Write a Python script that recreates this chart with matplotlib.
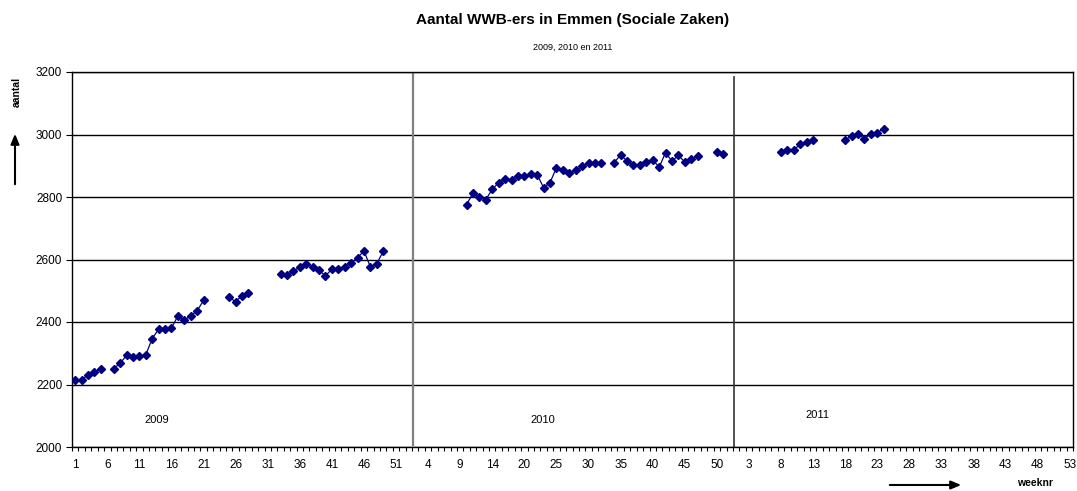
"""
Aantal WWB-ers in Emmen (Sociale Zaken), weekly counts 2009-2011.
"""

import matplotlib.pyplot as plt
import numpy as np
import pandas as pd

plt.rcParams["font.family"] = ["Liberation Sans", "DejaVu Sans"]

NAVY = "#000080"

# ---------------------------------------------------------------------------
# Data
# ---------------------------------------------------------------------------

# week numbers on the category axis (2010 skips one week on the axis)
weeks_2009 = list(range(1, 53))
weeks_2010 = [w for w in range(1, 53) if w != 17]
weeks_2011 = list(range(1, 54))

obs_weeks_2009 = [1, 2, 3, 4, 5,
                  7, 8, 9, 10, 11, 12, 13, 14, 15, 16, 17, 18, 19, 20, 21,
                  25, 26, 27, 28,
                  33, 34, 35, 36, 37, 38, 39, 40, 41, 42, 43, 44, 45, 46, 47, 48, 49]
aantal_2009 = [2214, 2216, 2230, 2239, 2251,
               2251, 2268, 2293, 2287, 2291, 2295, 2347, 2377, 2377, 2381, 2419,
               2406, 2419, 2436, 2469,
               2479, 2465, 2484, 2494,
               2555, 2551, 2563, 2575, 2587, 2575, 2565, 2548, 2569, 2571, 2577,
               2588, 2606, 2627, 2577, 2587, 2626]

obs_weeks_2010 = [10, 11, 12, 13, 14, 15, 16,
                  18, 19, 20, 21, 22, 23, 24, 25, 26, 27, 28, 29, 30, 31, 32,
                  34, 35, 36, 37, 38, 39, 40, 41, 42, 43, 44, 45, 46, 47,
                  50, 51]
aantal_2010 = [2775, 2814, 2800, 2792, 2825, 2846, 2857,
               2855, 2868, 2868, 2874, 2871, 2830, 2846, 2894, 2886, 2876, 2885,
               2899, 2908, 2908, 2908,
               2910, 2935, 2915, 2901, 2902, 2911, 2920, 2895, 2942, 2915, 2933,
               2912, 2922, 2930,
               2944, 2939]

obs_weeks_2011 = [8, 9, 10, 11, 12, 13,
                  18, 19, 20, 21, 22, 23, 24]
aantal_2011 = [2944, 2949, 2951, 2969, 2977, 2982,
               2983, 2995, 3002, 2986, 3003, 3006, 3019]

years = ["2009", "2010", "2011"]
year_label_pos = [(12.7, 2086), (72.9, 2086), (115.7, 2102)]
year_breaks = [52.65, 102.65]


def _year_series(axis_weeks, obs_weeks, values):
    return pd.Series(values, index=obs_weeks, dtype=float).reindex(axis_weeks)


def _arrow(ax, start, end):
    # start / end in figure pixels, measured from the top-left corner
    ax.annotate("", xy=(end[0] / 1077, 1 - end[1] / 491),
                xytext=(start[0] / 1077, 1 - start[1] / 491),
                xycoords="figure fraction", textcoords="figure fraction",
                arrowprops=dict(arrowstyle="-|>,head_length=0.6,head_width=0.25",
                                color="black", lw=1.5))


def plot_wwb(save_path="out.png"):
    series = pd.concat([
        _year_series(weeks_2009, obs_weeks_2009, aantal_2009),
        _year_series(weeks_2010, obs_weeks_2010, aantal_2010),
        _year_series(weeks_2011, obs_weeks_2011, aantal_2011),
    ], ignore_index=True)
    labels = weeks_2009 + weeks_2010 + weeks_2011
    x = np.arange(len(series))

    fig = plt.figure(figsize=(10.77, 4.91), dpi=100)
    ax = fig.add_axes([72 / 1077, 1 - 447 / 491, 1001 / 1077, 375 / 491])

    ax.plot(x, series.values, color=NAVY, lw=0.9, marker="D",
            markersize=4.0, markerfacecolor=NAVY, markeredgecolor=NAVY, zorder=3)

    ax.set_xlim(-0.5, len(series) - 0.5)
    ax.set_ylim(2000, 3200)
    ax.set_yticks(np.arange(2000, 3201, 200))
    ax.grid(axis="y", color="black", lw=1.0)
    ax.set_axisbelow(True)

    ax.set_xticks(x[::5])
    ax.set_xticklabels([str(labels[i]) for i in x[::5]], fontsize=8.5)
    ax.set_xticks(np.arange(-0.5, len(series), 1), minor=True)
    ax.tick_params(axis="x", which="major", length=0, pad=9)
    ax.tick_params(axis="x", which="minor", length=3, width=0.8)
    ax.tick_params(axis="y", length=4, width=0.8, labelsize=8.5, pad=3)
    for sp in ax.spines.values():
        sp.set_linewidth(1.0)

    # year separators
    ax.axvline(year_breaks[0], ymin=0.006, ymax=1.0, color="#808080", lw=1.6)
    ax.axvline(year_breaks[1], ymin=0.0, ymax=0.987, color="#333333", lw=1.2)

    for yr, (px, py) in zip(years, year_label_pos):
        ax.text(px, py, yr, fontsize=8, ha="center", va="center")

    fig.text(573 / 1077, 1 - 20 / 491, "Aantal WWB-ers in Emmen (Sociale Zaken)",
             ha="center", va="center", fontsize=11, fontweight="bold")
    fig.text(573 / 1077, 1 - 47 / 491, "2009, 2010 en 2011",
             ha="center", va="center", fontsize=6.5)

    fig.text(17 / 1077, 1 - 92 / 491, "aantal", rotation=90,
             ha="center", va="center", fontsize=7.5, fontweight="bold")
    fig.text(1035 / 1077, 1 - 483 / 491, "weeknr",
             ha="center", va="center", fontsize=7.5, fontweight="bold")
    _arrow(ax, (15, 187), (15, 131))
    _arrow(ax, (887, 485), (964, 485))

    fig.savefig(save_path, dpi=100)
    plt.close(fig)


if __name__ == "__main__":
    plot_wwb("out.png")
